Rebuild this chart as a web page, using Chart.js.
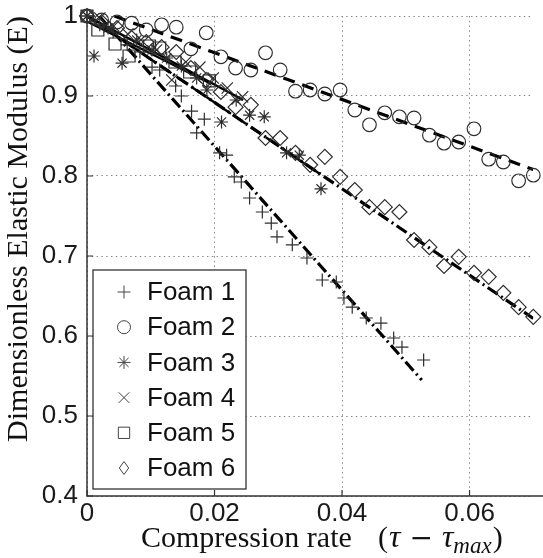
<!DOCTYPE html>
<html><head><meta charset="utf-8">
<script src="https://cdn.jsdelivr.net/npm/chart.js@4/dist/chart.umd.min.js"></script>
<style>html,body{margin:0;padding:0;background:#fff;}</style>
</head><body>
<canvas id="c" width="543" height="558"></canvas>
<script>
// ---------- data ----------
const xTickValues = [0, 0.02, 0.04, 0.06];
const yTickValues = [0.4, 0.5, 0.6, 0.7, 0.8, 0.9, 1.0];
const seriesNames = ['Foam 1', 'Foam 2', 'Foam 3', 'Foam 4', 'Foam 5', 'Foam 6'];
const xAxisTitle = 'Compression rate';
const yAxisTitle = 'Dimensionless Elastic Modulus (E)';

const foam1X = [0, 0.0020, 0.0041, 0.0063, 0.0083, 0.0102, 0.0114, 0.0139, 0.0148, 0.0164, 0.0172, 0.0184, 0.0208, 0.0219, 0.0231, 0.0242, 0.0255, 0.0275, 0.0289, 0.0298, 0.0322, 0.0345, 0.0369, 0.0391, 0.0403, 0.0416, 0.0438, 0.0461, 0.0481, 0.0494, 0.0528];
const foam1Y = [1.0, 0.989, 0.980, 0.964, 0.955, 0.936, 0.9325, 0.9125, 0.900, 0.881, 0.854, 0.871, 0.829, 0.826, 0.799, 0.7925, 0.7725, 0.755, 0.741, 0.724, 0.714, 0.6975, 0.670, 0.6675, 0.6475, 0.636, 0.6225, 0.616, 0.5975, 0.586, 0.570];

const foam2X = [0, 0.0023, 0.0047, 0.0070, 0.0093, 0.0117, 0.0140, 0.0163, 0.0187, 0.0210, 0.0233, 0.0257, 0.0280, 0.0303, 0.0327, 0.0350, 0.0373, 0.0397, 0.0420, 0.0443, 0.0467, 0.0490, 0.0513, 0.0537, 0.0560, 0.0583, 0.0607, 0.0630, 0.0653, 0.0677, 0.0700];
const foam2Y = [1.0, 0.995, 0.9925, 0.991, 0.9825, 0.989, 0.986, 0.959, 0.979, 0.949, 0.935, 0.9325, 0.954, 0.9325, 0.906, 0.9075, 0.9025, 0.9075, 0.8825, 0.864, 0.879, 0.874, 0.8725, 0.851, 0.841, 0.8425, 0.859, 0.821, 0.8175, 0.794, 0.801];

const foam3X = [0, 0.0011, 0.0033, 0.0055, 0.0078, 0.0102, 0.0125, 0.0148, 0.0172, 0.0188, 0.0211, 0.0234, 0.0255, 0.0278, 0.0313, 0.0333, 0.0367];
const foam3Y = [1.0, 0.95, 0.985, 0.941, 0.97, 0.9575, 0.9475, 0.9375, 0.9225, 0.9075, 0.8675, 0.895, 0.876, 0.874, 0.829, 0.826, 0.784];

const foam4X = [0, 0.0020, 0.0042, 0.0064, 0.0088, 0.0109, 0.0133, 0.0155, 0.0177, 0.0198, 0.0220, 0.0244];
const foam4Y = [1.0, 0.9975, 0.9875, 0.9775, 0.9675, 0.9575, 0.92, 0.9425, 0.936, 0.9225, 0.91, 0.899];

const foam5X = [0, 0.0017, 0.0044, 0.0066, 0.0098, 0.0114, 0.0138, 0.0161, 0.0192];
const foam5Y = [1.0, 0.9825, 0.965, 0.95, 0.9625, 0.96, 0.9425, 0.93, 0.919];

const foam6X = [0, 0.0023, 0.0047, 0.0070, 0.0093, 0.0117, 0.0140, 0.0163, 0.0187, 0.0210, 0.0233, 0.0257, 0.0280, 0.0303, 0.0327, 0.0350, 0.0373, 0.0397, 0.0420, 0.0443, 0.0467, 0.0490, 0.0513, 0.0537, 0.0560, 0.0583, 0.0607, 0.0630, 0.0653, 0.0677, 0.0700];
const foam6Y = [1.0, 0.9925, 0.985, 0.9725, 0.9675, 0.961, 0.955, 0.935, 0.92, 0.905, 0.886, 0.889, 0.8475, 0.8475, 0.829, 0.814, 0.824, 0.799, 0.7825, 0.761, 0.761, 0.755, 0.72, 0.711, 0.6875, 0.699, 0.679, 0.674, 0.654, 0.636, 0.624];

// fitted trend lines (end points)
const fit1X = [0.0019, 0.0525], fit1Y = [1.0, 0.545];
const fit2X = [0.0043, 0.0700], fit2Y = [1.0, 0.808];
const fit3X = [0, 0.0370], fit3Y = [1.0, 0.800];
const fit4X = [0, 0.0245], fit4Y = [1.0, 0.895];
const fit5X = [0, 0.0195], fit5Y = [0.993, 0.915];
const fit6X = [0, 0.0700], fit6Y = [1.0, 0.622];

// ---------- helpers ----------
const pts = (xs, ys) => xs.map((x, i) => ({x: x, y: ys[i]}));
const MARK = '#2e2e2e';
const markerStyles = ['cross', 'circle', 'star', 'crossRot', 'rect', 'rectRot'];
const markerRadius = [6.5, 6.8, 6.5, 8, 8.5, 7.5];
const seriesX = [foam1X, foam2X, foam3X, foam4X, foam5X, foam6X];
const seriesY = [foam1Y, foam2Y, foam3Y, foam4Y, foam5Y, foam6Y];

const datasets = [];
const fits = [
  {x: fit1X, y: fit1Y, dash: [12, 4, 2, 4], w: 3.2},
  {x: fit2X, y: fit2Y, dash: [12, 8], w: 3.2},
  {x: fit3X, y: fit3Y, dash: [12, 6], w: 2.5},
  {x: fit4X, y: fit4Y, dash: [], w: 2.5},
  {x: fit5X, y: fit5Y, dash: [], w: 2.2},
  {x: fit6X, y: fit6Y, dash: [12, 4, 2, 4], w: 3.2}
];
seriesNames.forEach((name, i) => {
  datasets.push({
    label: name,
    data: pts(seriesX[i], seriesY[i]),
    showLine: false,
    pointStyle: markerStyles[i],
    pointRadius: markerRadius[i],
    pointBorderColor: MARK,
    pointBackgroundColor: 'rgba(0,0,0,0)',
    pointBorderWidth: 1.2,
    clip: false
  });
});
fits.forEach((f, i) => {
  datasets.push({
    label: 'fit ' + seriesNames[i],
    data: pts(f.x, f.y),
    showLine: true,
    borderColor: '#000',
    borderWidth: f.w,
    borderDash: f.dash,
    pointRadius: 0,
    fill: false
  });
});

function drawMarker(ctx, style, x, y, r) {
  ctx.beginPath();
  const d = r * Math.SQRT1_2;
  switch (style) {
    case 'cross': ctx.moveTo(x - r, y); ctx.lineTo(x + r, y); ctx.moveTo(x, y - r); ctx.lineTo(x, y + r); break;
    case 'circle': ctx.arc(x, y, r, 0, Math.PI * 2); break;
    case 'crossRot': ctx.moveTo(x - d, y - d); ctx.lineTo(x + d, y + d); ctx.moveTo(x - d, y + d); ctx.lineTo(x + d, y - d); break;
    case 'star':
      ctx.moveTo(x - r, y); ctx.lineTo(x + r, y); ctx.moveTo(x, y - r); ctx.lineTo(x, y + r);
      ctx.moveTo(x - d, y - d); ctx.lineTo(x + d, y + d); ctx.moveTo(x - d, y + d); ctx.lineTo(x + d, y - d); break;
    case 'rect': ctx.rect(x - d, y - d, 2 * d, 2 * d); break;
    case 'rectRot': ctx.moveTo(x, y - r); ctx.lineTo(x + r * 0.72, y); ctx.lineTo(x, y + r); ctx.lineTo(x - r * 0.72, y); ctx.closePath(); break;
  }
  ctx.stroke();
}

const decor = {
  id: 'decor',
  afterDatasetsDraw(chart) {
    const ctx = chart.ctx, a = chart.chartArea;
    const xs = chart.scales.x, ys = chart.scales.y;
    ctx.save();
    ctx.setLineDash([]);
    // axis lines
    ctx.strokeStyle = '#333'; ctx.lineWidth = 1.5;
    ctx.beginPath();
    ctx.moveTo(a.left, a.top); ctx.lineTo(a.left, a.bottom); ctx.lineTo(chart.width, a.bottom);
    ctx.stroke();
    // inner tick marks
    ctx.lineWidth = 1.2;
    ctx.beginPath();
    xTickValues.forEach(v => { const px = xs.getPixelForValue(v); ctx.moveTo(px, a.bottom); ctx.lineTo(px, a.bottom - 6); });
    yTickValues.forEach(v => { const py = ys.getPixelForValue(v); ctx.moveTo(a.left, py); ctx.lineTo(a.left + 6, py); });
    ctx.stroke();

    // legend
    const bx = 93, by = 270, bw = 153, bh = 219;
    ctx.fillStyle = '#fff';
    ctx.fillRect(bx, by, bw, bh);
    ctx.strokeStyle = '#333'; ctx.lineWidth = 1.3;
    ctx.strokeRect(bx, by, bw, bh);
    ctx.font = '26px "Liberation Sans", Arial, sans-serif';
    ctx.textBaseline = 'middle'; ctx.textAlign = 'left';
    seriesNames.forEach((name, i) => {
      const cy = 292 + i * 35.2;
      ctx.strokeStyle = '#444'; ctx.lineWidth = 1;
      drawMarker(ctx, markerStyles[i], 124, cy, i === 3 ? 7.5 : (i === 4 ? 8 : 6.5));
      ctx.fillStyle = '#111';
      ctx.fillText(name, 147, cy + 1);
    });

    // x title with subscript
    ctx.fillStyle = '#111';
    ctx.textBaseline = 'alphabetic';
    ctx.textAlign = 'left';
    const reg = '30px "Liberation Serif", "Times New Roman", serif';
    const ital = 'italic 32px "Liberation Serif", "Times New Roman", serif';
    const sub = 'italic 23px "Liberation Serif", "Times New Roman", serif';
    const minusFont = '28px "DejaVu Serif", serif';
    ctx.font = reg;
    ctx.fillText(xAxisTitle, 141, 547);
    const pieces = [
      {t: '(', f: reg, dy: 0, gap: 1},
      {t: 'τ', f: ital, dy: 0, gap: 9},
      {t: '−', f: minusFont, dy: 0, gap: 9},
      {t: 'τ', f: ital, dy: 0, gap: 0},
      {t: 'max', f: sub, dy: 6, gap: 1},
      {t: ')', f: reg, dy: 0, gap: 0}
    ];
    let cx = 378;
    pieces.forEach(p => { ctx.font = p.f; ctx.fillText(p.t, cx, 547 + p.dy); cx += ctx.measureText(p.t).width + p.gap; });

    // y title
    ctx.save();
    ctx.translate(27, 229);
    ctx.rotate(-Math.PI / 2);
    ctx.font = reg; ctx.textAlign = 'center';
    ctx.fillText(yAxisTitle, 0, 0);
    ctx.restore();
    ctx.restore();
  }
};

new Chart(document.getElementById('c'), {
  type: 'scatter',
  data: {datasets: datasets},
  options: {
    responsive: false,
    animation: false,
    devicePixelRatio: 1,
    layout: {padding: {top: 0, right: 0, left: 0, bottom: 0}},
    plugins: {legend: {display: false}, tooltip: {enabled: false}},
    scales: {
      x: {
        type: 'linear', min: 0, max: 0.07,
        afterBuildTicks: s => { s.ticks = xTickValues.map(v => ({value: v})); },
        afterFit: s => { s.height = 62; s.paddingLeft = 0; s.paddingRight = 0; s.paddingTop = 0; s.paddingBottom = 0; },
        grid: {color: '#8a8a8a', lineWidth: 1, drawTicks: false},
        border: {display: false, dash: [1.5, 3.3]},
        ticks: {
          font: {family: '"Liberation Sans", Arial, sans-serif', size: 26},
          color: '#1a1a1a', padding: 2, maxRotation: 0, autoSkip: false,
          callback: v => (v === 0 ? '0' : String(Math.round(v * 100) / 100))
        }
      },
      y: {
        type: 'linear', min: 0.4, max: 1.0,
        afterBuildTicks: s => { s.ticks = yTickValues.map(v => ({value: v})); },
        afterFit: s => { s.width = 87; s.paddingTop = 16; s.paddingBottom = 0; s.paddingLeft = 0; s.paddingRight = 0; },
        grid: {color: '#8a8a8a', lineWidth: 1, drawTicks: false},
        border: {display: false, dash: [1.5, 3.3]},
        ticks: {
          font: {family: '"Liberation Sans", Arial, sans-serif', size: 26},
          color: '#1a1a1a', padding: 9, autoSkip: false,
          callback: v => (Math.abs(v - 1) < 1e-9 ? '1' : v.toFixed(1))
        }
      }
    }
  },
  plugins: [decor]
});
</script>
</body></html>
